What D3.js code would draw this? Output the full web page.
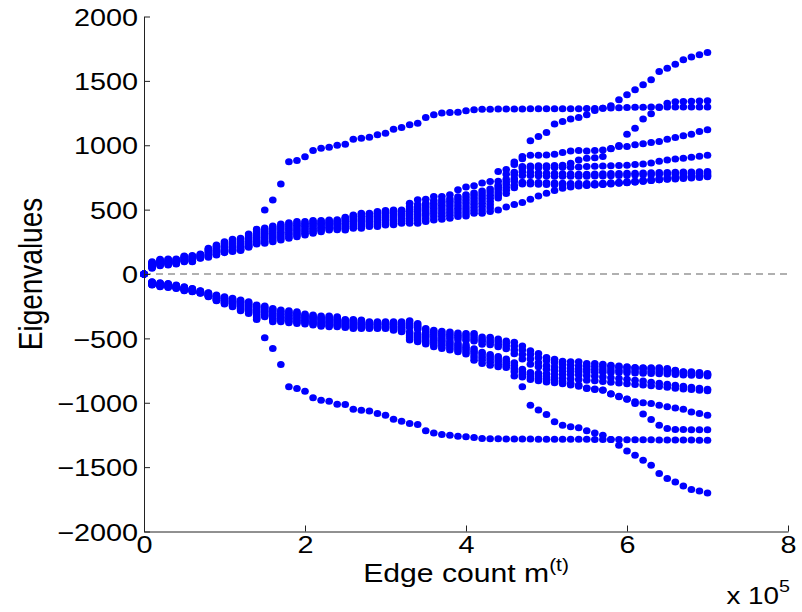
<!DOCTYPE html>
<html>
<head>
<meta charset="utf-8">
<script src="https://cdn.jsdelivr.net/npm/d3@7"></script>
<style>
  body { margin: 0; background: #fff; }
  svg { display: block; }
  text { font-family: "Liberation Sans", Arial, sans-serif; fill: #000; }
</style>
</head>
<body>
<svg id="chart" width="802" height="612"></svg>
<script>
// edge counts m(t), one sample every 10^4 edges
const edgeCount = [
  0, 10000, 20000, 30000, 40000, 50000, 60000, 70000, 80000, 90000,
  100000, 110000, 120000, 130000, 140000, 150000, 160000, 170000, 180000, 190000,
  200000, 210000, 220000, 230000, 240000, 250000, 260000, 270000, 280000, 290000,
  300000, 310000, 320000, 330000, 340000, 350000, 360000, 370000, 380000, 390000,
  400000, 410000, 420000, 430000, 440000, 450000, 460000, 470000, 480000, 490000,
  500000, 510000, 520000, 530000, 540000, 550000, 560000, 570000, 580000, 590000,
  600000, 610000, 620000, 630000, 640000, 650000, 660000, 670000, 680000, 690000,
  700000
];

// positive eigenvalues (tracks)
const posA = [0,
  96, 114, 117, 117, 140, 143, 155, 200, 226, 251, 269, 277, 311, 347,
  498, 575, 700, 871, 881, 910, 959, 977, 985, 1000,
  1008, 1047, 1055, 1062, 1081, 1094, 1125, 1138, 1159, 1170,
  1216, 1237, 1250, 1255, 1257, 1267, 1275, 1280, 1280, 1281,
  1281, 1282, 1282, 1283, 1283, 1283, 1283, 1284, 1284, 1284,
  1285, 1286, 1288, 1290, 1292, 1294, 1295, 1296, 1297, 1297,
  1298, 1298, 1298, 1298, 1298, 1298];
const posB = [0,
  85, 103, 106, 108, 130, 132, 147, 184, 205, 226, 243, 251, 282, 314,
  344, 358, 373, 384, 393, 395, 404, 405, 411, 412, 430, 447, 459, 460, 472, 480, 485, 487,
  522, 540, 550, 570, 575, 585, 600, 615, 630, 645, 660, 720, 775, 850, 895,
  1035, 1068, 1099, 1166, 1185, 1203, 1216, 1236, 1270, 1288, 1306, 1353, 1392, 1431, 1470, 1508,
  1573, 1599, 1630, 1664, 1685, 1703, 1721];
const posD = [0,
  78, 97, 100, 103, 124, 126, 143, 175, 195, 214, 230, 238, 268, 299,
  330, 343, 357, 369, 379, 383, 392, 395, 402, 403, 419, 435, 446, 448, 459, 467, 472, 475,
  505, 521, 531, 550, 555, 565, 578, 592, 608, 622, 636, 690, 735, 790, 835,
  838, 840, 840, 842, 845, 860, 885, 900, 903, 912, 975, 998, 1086, 1133, 1203, 1244,
  1293, 1327, 1338, 1340, 1342, 1344, 1345];
const posE = [0,
  90, 108, 112, 113, 135, 137, 151, 192, 216, 238, 256, 264, 296, 330,
  358, 373, 389, 399, 407, 407, 415, 415, 420, 421, 441, 459, 472, 472, 485, 493, 498, 498,
  550, 576, 581, 602, 602, 615, 654, 675, 685, 706, 719, 796, 812, 870, 912,
  923, 923, 925, 930, 943, 956, 959, 956, 959, 964, 972, 990, 990, 1003, 1011, 1021,
  1029, 1047, 1060, 1073, 1086, 1107, 1120];
const posF = [0,
  72, 91, 95, 98, 119, 120, 139, 166, 185, 203, 218, 226, 255, 285,
  316, 328, 341, 354, 365, 370, 380, 384, 393, 394, 407, 422, 432, 436, 445, 454, 458, 463,
  488, 502, 512, 530, 534, 544, 556, 569, 585, 598, 612, 672, 715, 770, 822,
  825, 826, 826, 828, 830, 830, 832, 835, 836, 838, 840, 842, 845, 850, 855, 862,
  875, 885, 893, 900, 906, 914, 922];
const posG = [0,
  66, 85, 89, 94, 114, 115, 136, 158, 176, 193, 207, 215, 243, 272,
  302, 313, 325, 339, 350, 357, 367, 373, 383, 385, 395, 409, 418, 423, 431, 440, 444, 450,
  470, 483, 492, 510, 513, 522, 533, 545, 562, 574, 588, 655, 695, 740, 795,
  790, 785, 782, 780, 778, 776, 775, 775, 776, 778, 780, 781, 782, 783, 785, 786,
  788, 789, 790, 792, 793, 795, 796];
const posH = [0,
  60, 80, 84, 90, 109, 110, 132, 150, 168, 184, 196, 205, 232, 260,
  288, 298, 310, 323, 335, 343, 354, 362, 373, 375, 382, 396, 403, 410, 416, 426, 429, 437,
  452, 463, 472, 490, 492, 500, 511, 521, 540, 550, 563, 632, 672, 720, 765,
  765, 763, 762, 760, 760, 760, 760, 760, 761, 762, 763, 765, 766, 768, 770, 771,
  773, 775, 777, 779, 781, 783, 785];
const posI = [0,
  55, 75, 79, 86, 104, 105, 129, 143, 160, 176, 187, 196, 222, 249,
  272, 283, 295, 308, 320, 330, 341, 351, 363, 364, 369, 383, 388, 396, 400, 411, 413, 423,
  433, 443, 452, 468, 470, 478, 489, 498, 517, 525, 538, 610, 650, 690, 712,
  712, 710, 708, 706, 705, 703, 702, 702, 703, 705, 708, 712, 717, 722, 728, 734,
  740, 746, 752, 757, 762, 767, 770];
const posJ = [0,
  50, 70, 74, 82, 100, 100, 125, 137, 154, 170, 180, 188, 214, 240,
  255, 267, 280, 292, 305, 316, 329, 340, 352, 353, 356, 369, 372, 382, 384, 396, 397, 409,
  414, 420, 430, 445, 448, 456, 467, 474, 494, 498, 512, 590, 625, 670, 700,
  700, 698, 695, 693, 692, 691, 690, 691, 693, 696, 700, 704, 709, 714, 720, 726,
  732, 738, 744, 749, 754, 758, 762];
const posK = [0,
  44, 65, 70, 78, 96, 96, 122, 131, 148, 166, 174, 182, 208, 233,
  238, 251, 264, 277, 290, 303, 316, 329, 342, 343, 342, 355, 356, 368, 369, 381, 382, 394,
  394, 395, 407, 420, 425, 433, 446, 451, 472, 472, 485, 498, 520, 540, 556,
  581, 605, 627, 648, 666, 676, 684, 688, 692, 698, 705, 707, 710, 715, 720, 727,
  733, 735, 738, 742, 746, 750, 755];

// negative eigenvalues
const negA = [0,
  -86, -99, -104, -112, -130, -138, -150, -176, -207, -233, -254, -285, -306, -353,
  -495, -578, -702, -876, -889, -910, -962, -980, -988, -1011,
  -1013, -1050, -1058, -1065, -1083, -1097, -1128, -1143, -1161, -1169,
  -1218, -1234, -1247, -1252, -1260, -1265, -1270, -1278, -1280, -1280,
  -1281, -1281, -1282, -1282, -1283, -1283, -1283, -1283, -1284, -1284,
  -1284, -1285, -1285, -1286, -1286, -1287, -1287, -1288, -1288, -1289,
  -1289, -1290, -1290, -1290, -1291, -1292];
const negB = [0,
  -84, -96, -101, -109, -127, -135, -148, -172, -203, -227, -247, -276, -296, -340,
  -332, -371, -371, -379, -384, -389, -397, -405, -410, -410, -415, -423, -423, -423, -423, -423, -436, -449,
  -513, -526, -544, -565, -578, -591, -604, -622, -669, -695, -708, -721, -726, -793, -876,
  -1019, -1057, -1091, -1148, -1174, -1187, -1195, -1218, -1234, -1252, -1286, -1330, -1374, -1407, -1446, -1485,
  -1550, -1589, -1615, -1646, -1674, -1685, -1700];
const negD = [0,
  -81, -92, -97, -106, -123, -132, -146, -169, -198, -220, -239, -266, -286, -326,
  -322, -358, -360, -367, -373, -379, -387, -395, -400, -400, -407, -414, -415, -416, -417, -416, -428, -440,
  -495, -510, -528, -548, -560, -573, -586, -603, -645, -670, -685, -700, -710, -760, -800,
  -820, -830, -838, -845, -852, -862, -872, -885, -893, -900, -930, -950, -970, -1005, -1088, -1130,
  -1174, -1200, -1208, -1208, -1210, -1210, -1210];
const negE = [0,
  -78, -89, -94, -103, -119, -129, -143, -165, -193, -214, -232, -257, -275, -312,
  -311, -345, -348, -356, -361, -369, -378, -386, -389, -391, -400, -405, -407, -410, -410, -410, -420, -430,
  -480, -495, -512, -530, -543, -556, -570, -585, -620, -648, -665, -680, -695, -735, -780,
  -800, -810, -818, -826, -835, -848, -862, -889, -897, -902, -933, -954, -972, -993, -1000, -1006,
  -1019, -1032, -1040, -1050, -1071, -1084, -1097];
const negF = [0,
  -75, -86, -91, -100, -116, -126, -141, -162, -188, -207, -225, -248, -265, -299,
  -301, -332, -337, -344, -350, -359, -368, -376, -379, -381, -392, -397, -399, -403, -404, -404, -412, -420,
  -465, -480, -496, -515, -527, -540, -555, -568, -600, -628, -645, -660, -678, -712, -760,
  -780, -790, -798, -805, -810, -815, -820, -826, -830, -835, -840, -846, -852, -858, -863, -868,
  -873, -880, -887, -893, -898, -903, -907];
const negG = [0,
  -72, -82, -87, -98, -112, -124, -139, -159, -183, -201, -218, -239, -255, -287,
  -290, -319, -326, -332, -338, -350, -358, -366, -368, -371, -384, -388, -390, -397, -397, -397, -403, -410,
  -450, -465, -482, -500, -512, -525, -540, -552, -580, -608, -625, -640, -660, -690, -740,
  -765, -770, -775, -778, -780, -782, -785, -790, -795, -800, -806, -812, -818, -825, -832, -840,
  -848, -856, -864, -872, -880, -888, -895];
const negK = [0,
  -69, -79, -84, -95, -109, -121, -137, -155, -178, -195, -211, -229, -245, -275,
  -280, -306, -315, -321, -327, -340, -348, -356, -358, -361, -376, -379, -382, -390, -391, -390, -395, -401,
  -415, -430, -470, -485, -495, -502, -510, -515, -520, -545, -550, -565, -580, -620, -660,
  -700, -720, -740, -750, -755, -758, -760, -762, -763, -764, -765, -766, -767, -768, -770, -772,
  -774, -776, -780, -784, -787, -789, -792];
const negJ = [0,
  -66, -75, -80, -92, -106, -118, -134, -152, -173, -188, -203, -220, -235, -263,
  -269, -293, -303, -309, -315, -330, -338, -346, -348, -352, -369, -370, -374, -384, -384, -384, -387, -391,
  -400, -415, -455, -468, -478, -485, -492, -498, -502, -525, -530, -545, -560, -590, -625,
  -660, -690, -710, -722, -730, -735, -738, -740, -742, -744, -746, -748, -750, -752, -754, -756,
  -758, -760, -765, -772, -776, -780, -785];
const negI = [0,
  -63, -72, -77, -89, -102, -115, -132, -148, -168, -182, -196, -211, -225, -252,
  -259, -280, -292, -297, -304, -321, -329, -337, -337, -342, -361, -362, -366, -377, -378, -378, -379, -381,
  -385, -400, -440, -452, -462, -468, -475, -480, -482, -508, -512, -525, -540, -560, -590,
  -625, -650, -672, -688, -700, -708, -712, -716, -718, -720, -722, -725, -728, -730, -733, -735,
  -738, -742, -752, -762, -766, -770, -780];
const negH = [0,
  -60, -68, -73, -86, -99, -112, -130, -145, -163, -176, -189, -202, -215, -241,
  -249, -267, -280, -285, -293, -311, -319, -327, -327, -332, -353, -353, -358, -371, -371, -371, -371, -371,
  -363, -384, -423, -436, -445, -450, -458, -462, -462, -490, -492, -505, -520, -530, -560,
  -596, -617, -648, -663, -677, -682, -682, -695, -695, -700, -708, -715, -720, -726, -728, -728,
  -728, -734, -747, -759, -759, -765, -772];

const xTicks = [0, 200000, 400000, 600000, 800000];
const yTicks = [-2000, -1500, -1000, -500, 0, 500, 1000, 1500, 2000];

const allSeries = [posA, posB, posD, posE, posF, posG, posH, posI, posJ, posK,
                   negA, negB, negD, negE, negF, negG, negH, negI, negJ, negK];

const svg = d3.select("#chart");
svg.append("rect").attr("width", 802).attr("height", 612).attr("fill", "#fff");

const x = d3.scaleLinear().domain([0, 800000]).range([144, 788]);
const y = d3.scaleLinear().domain([-2000, 2000]).range([531.5, 16.5]);

// the figure's text is a bit wider than Helvetica
const tickStretch = "scale(1.2,1)";
const labelStretch = "scale(1.16,1)";

// zero line
svg.append("line")
  .attr("x1", x(0)).attr("x2", x(800000))
  .attr("y1", y(0)).attr("y2", y(0))
  .attr("stroke", "#b0b0b0")
  .attr("stroke-width", 2)
  .attr("stroke-dasharray", "7,5");

// dots
const dots = svg.append("g");
allSeries.forEach((s) => {
  dots.selectAll(null)
    .data(s.map((v, i) => ({ m: edgeCount[i], v: v })))
    .enter()
    .append("ellipse")
    .attr("cx", (d) => x(d.m))
    .attr("cy", (d) => y(d.v))
    .attr("rx", 3.8)
    .attr("ry", 3.5)
    .attr("fill", "#0000ff");
});

// axes
const yAxis = svg.append("g")
  .attr("transform", `translate(${x(0)},0)`)
  .call(d3.axisLeft(y).tickValues(yTicks).tickSizeInner(-6).tickSizeOuter(0).tickPadding(5)
    .tickFormat((d) => (d < 0 ? "\u2212" + Math.abs(d) : String(d))));
yAxis.selectAll("text")
  .attr("transform", tickStretch)
  .style("font-size", "24px")
  .attr("dy", "0.36em");

const xAxis = svg.append("g")
  .attr("transform", `translate(0,${y(-2000)})`)
  .call(d3.axisBottom(x).tickValues(xTicks).tickSizeInner(-6).tickSizeOuter(0).tickPadding(4)
    .tickFormat((d) => String(d / 100000)));
xAxis.selectAll("text")
  .attr("transform", tickStretch)
  .style("font-size", "24px");

[yAxis, xAxis].forEach((a) => {
  a.select(".domain").attr("stroke", "#222");
  a.selectAll(".tick line").attr("stroke", "#222");
});

// axis labels
svg.append("text")
  .attr("transform", `translate(42,${y(0)}) ${labelStretch} rotate(-90)`)
  .attr("text-anchor", "middle")
  .style("font-size", "28px")
  .text("Eigenvalues");

const xl = svg.append("text")
  .attr("transform", `translate(${x(400000)},582) ${labelStretch}`)
  .attr("text-anchor", "middle")
  .style("font-size", "26px");
xl.append("tspan").text("Edge count m");
xl.append("tspan").attr("dy", -11).style("font-size", "18px").text("(t)");

const ex = svg.append("text")
  .attr("transform", `translate(${x(800000) + 2},604) ${labelStretch}`)
  .attr("text-anchor", "end")
  .style("font-size", "24px");
ex.append("tspan").text("x 10");
ex.append("tspan").attr("dy", -12).style("font-size", "17px").text("5");
</script>
</body>
</html>
